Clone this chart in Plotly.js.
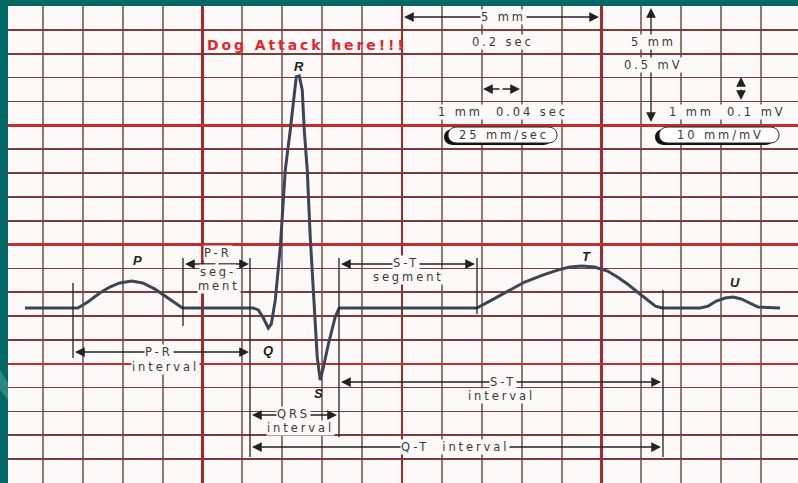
<!DOCTYPE html>
<html>
<head>
<meta charset="utf-8">
<script src="https://cdn.plot.ly/plotly-3.0.1.min.js"></script>
<style>
  html, body { margin: 0; padding: 0; background: #006865; }
  .annotation-text { letter-spacing: 2.9px; }
</style>
</head>
<body>
<div id="chart" style="width:798px;height:483px;"></div>
<script>
// ---- data: one ECG complex (time in seconds, amplitude in mV) ----
const pWaveTime  = [0.022,0.075,0.085,0.097,0.107,0.117,0.129,0.140,0.152,0.164,0.173,0.180];
const pWaveMv    = [0,0,0.025,0.063,0.088,0.105,0.113,0.105,0.080,0.046,0.017,0];
const qrsTime    = [0.251,0.256,0.261,0.266,0.269,0.273,0.278,0.283,0.288,0.291,0.294,0.297,0.300,0.302,0.305,0.308,0.312,0.315,0.318,0.321,0.326,0.333,0.337];
const qrsMv      = [0,-0.008,-0.042,-0.084,-0.067,0.034,0.256,0.579,0.746,0.872,0.969,0.973,0.914,0.746,0.579,0.298,0.021,-0.205,-0.302,-0.252,-0.155,-0.038,0];
const tWaveTime  = [0.475,0.488,0.508,0.523,0.541,0.556,0.568,0.580,0.593,0.606,0.616,0.626,0.636,0.646,0.654,0.661];
const tWaveMv    = [0,0.029,0.075,0.109,0.138,0.159,0.172,0.176,0.172,0.155,0.130,0.101,0.067,0.034,0.008,0];
const uWaveTime  = [0.699,0.707,0.715,0.724,0.732,0.740,0.749,0.757,0.779];
const uWaveMv    = [0,0.008,0.029,0.042,0.046,0.038,0.021,0.004,0];

// grid: small box = 0.04 s x 0.1 mV, large box = 0.2 s x 0.5 mV
const smallTime = 0.04, largeTime = 0.2, smallMv = 0.1, largeMv = 0.5;

const ecgTime = [].concat(pWaveTime, qrsTime, tWaveTime, uWaveTime);
const ecgMv   = [].concat(pWaveMv, qrsMv, tWaveMv, uWaveMv);

// ---- layout helpers (pixel placement -> axis coordinates) ----
const X = px => (px - 3) / 997.5;
const Y = py => (308 - py) / 238.5;
const PX = px => (px - 8) / 790;
const PY = py => (483 - py) / 477;

const TXT = {family: 'DejaVu Sans, Liberation Sans, sans-serif', size: 11.5, color: '#3a3a3a'};
const LBL = {family: 'Liberation Sans, Arial, sans-serif', size: 13, color: '#222', weight: 'bold', style: 'italic'};

const annotations = [];
const shapes = [];

// dimension arrows: [centerX, centerY, headX, headY]
const arrowDefs = [
  [502,17,404,17],[502,17,599,17],
  [501,89,483,89],[501,89,520,89],
  [651,65,651,8],[651,65,651,122],
  [741,88,741,77],[741,88,741,100],
  [217,264,185,264],[217,264,249,264],
  [408,264,341,264],[408,264,475,264],
  [160,352,75,352],[160,352,249,352],
  [294,415,252,415],[294,415,337,415],
  [500,382,341,382],[500,382,661,382],
  [455,447,252,447],[455,447,661,447]
];
arrowDefs.forEach(a => annotations.push({
  xref:'x', yref:'y', axref:'x', ayref:'y',
  x: X(a[2]), y: Y(a[3]), ax: X(a[0]), ay: Y(a[1]),
  text: '', showarrow: true, arrowhead: 2, arrowsize: 1.5, arrowwidth: 1.3,
  arrowcolor: '#222', standoff: 0, startstandoff: 0
}));

// vertical marker bars: [x, yTop, yBottom]
const bars = [[73,283,358],[183,258,326],[250,258,457],[339,258,437],[477,258,314],[663,290,457]];
bars.forEach(b => shapes.push({
  type:'line', xref:'x', yref:'y', x0:X(b[0]), x1:X(b[0]), y0:Y(b[1]), y1:Y(b[2]),
  line:{color:'#222', width:1.3}, layer:'above'
}));

// pills
function pill(x0,y0,x1,y1){
  const rx = 9, k = 4/3*rx;
  return `M ${X(x0+rx)},${Y(y0)} L ${X(x1-rx)},${Y(y0)} C ${X(x1-rx+k)},${Y(y0)} ${X(x1-rx+k)},${Y(y1)} ${X(x1-rx)},${Y(y1)} L ${X(x0+rx)},${Y(y1)} C ${X(x0+rx-k)},${Y(y1)} ${X(x0+rx-k)},${Y(y0)} ${X(x0+rx)},${Y(y0)} Z`;
}
[[444,129,552,145,448,127,557,143],[655,129,774,145,659,127,779,143]].forEach(p => {
  shapes.push({type:'path', xref:'x', yref:'y', path: pill(p[0],p[1],p[2],p[3]), fillcolor:'#111', line:{width:0}, layer:'above'});
  shapes.push({type:'path', xref:'x', yref:'y', path: pill(p[4],p[5],p[6],p[7]), fillcolor:'#ffffff', line:{color:'#222', width:1}, layer:'above'});
});

// faint light streak on the left frame
shapes.push({type:'path', xref:'paper', yref:'paper',
  path:`M ${PX(0)},${PY(370)} L ${PX(8)},${PY(383)} L ${PX(8)},${PY(400)} L ${PX(0)},${PY(390)} Z`,
  fillcolor:'#2a8783', line:{width:0}, layer:'above'});

// text labels: [text, x, y, withBackground]
const NB = '\u00a0';
const textDefs = [
  ['5 mm',502,17,true],['0.2 sec',501,42,true],['5 mm',652,42,true],['0.5 mV',651,65,true],
  ['1 mm'+NB+' 0.04 sec',501,112,true],['1 mm'+NB+' 0.1 mV',726,112,true],
  ['25 mm/sec',502,135,false],['10 mm/mV',719,135,false],
  ['P-R',216,253,true],['seg-',216,272,true],['ment',217,286,true],
  ['S-T',404,263,true],['segment',407,277,true],
  ['P-R',157,352,true],['interval',164,367,true],
  ['QRS',292,414,true],['interval',299,428,true],
  ['S-T',501,382,true],['interval',500,396,true],
  ['Q-T'+NB+' interval',453,447,true]
];
textDefs.forEach(t => annotations.push({
  xref:'x', yref:'y', x: X(t[1]), y: Y(t[2]), text: t[0], showarrow:false,
  font: TXT, bgcolor: t[3] ? '#fdf9f9' : 'rgba(0,0,0,0)', borderpad: 0, xshift: 1.5
}));

// wave letters
[['P',137,260],['Q',268,350],['R',298,66],['S',318,393],['T',586,256],['U',734,282]].forEach(t => annotations.push({
  xref:'x', yref:'y', x: X(t[1]), y: Y(t[2]), text: t[0], showarrow:false, font: LBL, xshift: 1.5
}));

annotations.push({
  xref:'x', yref:'y', x: X(305), y: Y(45), text: 'Dog Attack here!!!', showarrow:false,
  font: {family:'DejaVu Sans, Liberation Sans, sans-serif', size:14, color:'#e8262a', weight:'bold'}, xshift: 1.5
});

const trace = {
  type:'scatter', mode:'lines', x: ecgTime, y: ecgMv,
  line: {color:'#3b4555', width:3, shape:'linear'}, hoverinfo:'skip'
};

const layout = {
  width: 798, height: 483, autosize: false,
  margin: {l:8, r:0, t:6, b:0, pad:0},
  paper_bgcolor: '#006865', plot_bgcolor: '#fdf9f9',
  showlegend: false,
  xaxis: {
    range: [X(8), X(798)], showticklabels:false, ticks:'', zeroline:false, showline:false,
    tick0: 0, dtick: largeTime, showgrid:true, gridcolor:'#a52a2a', gridwidth:2.5,
    minor: {tick0: 0, dtick: smallTime, showgrid:true, gridcolor:'#937878', gridwidth:2},
    fixedrange:true
  },
  yaxis: {
    range: [Y(483), Y(6)], showticklabels:false, ticks:'', zeroline:false, showline:false,
    tick0: Y(6) - 2*largeMv, dtick: largeMv, showgrid:true, gridcolor:'#c22e2e', gridwidth:2.5,
    minor: {tick0: Y(6) - 12*smallMv, dtick: smallMv, showgrid:true, gridcolor:'#7c3c3c', gridwidth:1.7},
    fixedrange:true
  },
  shapes: shapes,
  annotations: annotations
};

Plotly.newPlot('chart', [trace], layout, {staticPlot:true, displayModeBar:false});
</script>
</body>
</html>
